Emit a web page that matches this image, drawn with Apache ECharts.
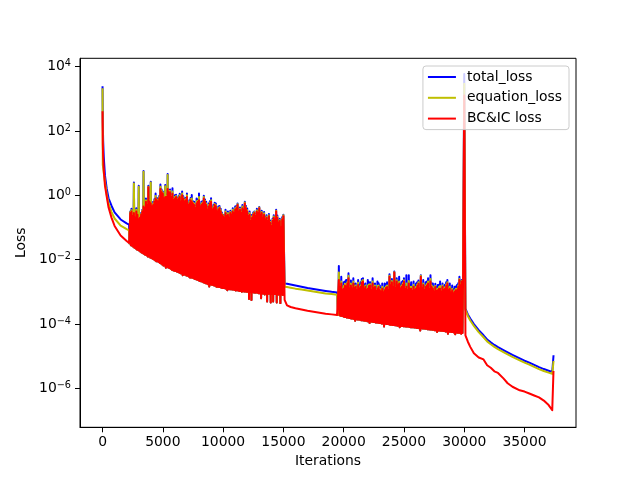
<!DOCTYPE html>
<html>
<head>
<meta charset="utf-8">
<script src="https://cdn.jsdelivr.net/npm/echarts@6.0.0/dist/echarts.min.js"></script>
<style>
html,body{margin:0;padding:0;background:#fff;}
#chart{width:640px;height:480px;}
</style>
</head>
<body>
<div id="chart"></div>
<script>
// ---- data (loss values stored as log10 exponents) ----
const seriesNames = ['total_loss', 'equation_loss', 'BC&IC loss'];
const xTickValues = [0, 5000, 10000, 15000, 20000, 25000, 30000, 35000];
const yTickExponents = [-6, -4, -2, 0, 2, 4];

// early smooth decay
const earlyIters = [0, 20, 50, 100, 200, 350, 500, 750, 1000, 1500, 2000, 2200];
const blueEarlyExp = [3.36, 2.3, 1.7, 1.2, 0.62, 0.2, -0.09, -0.33, -0.53, -0.75, -0.87, -0.91];
const yellowEarlyExp = [3.3, 0.95, 0.85, 0.7, 0.42, 0.02, -0.26, -0.52, -0.72, -0.94, -1.05, -1.09];
const redEarlyExp = [2.58, 1.6, 1.2, 0.8, 0.3, -0.05, -0.38, -0.7, -0.95, -1.25, -1.42, -1.48];

// first oscillating phase: troughs at 2250,2350,... peaks at 2300,2400,...,15000
const osc1Start = 2250;
const troughExp1 = [
  -1.5, -1.55, -1.57, -1.6, -1.63, -1.65, -1.68, -1.7, -1.72, -1.75,
  -1.78, -1.8, -1.82, -1.85, -1.86, -1.9, -1.9, -1.93, -1.95, -1.97,
  -1.99, -2.02, -2.05, -2.05, -2.07, -2.1, -2.12, -2.15, -2.18, -2.18,
  -2.25, -2.22, -2.24, -2.26, -2.28, -2.31, -2.33, -2.34, -2.35, -2.37,
  -2.38, -2.4, -2.42, -2.43, -2.48, -2.46, -2.47, -2.49, -2.5, -2.52,
  -2.55, -2.55, -2.56, -2.58, -2.6, -2.61, -2.62, -2.64, -2.66, -2.67,
  -2.68, -2.7, -2.72, -2.73, -2.74, -2.76, -2.83, -2.77, -2.78, -2.79,
  -2.8, -2.81, -2.84, -2.84, -2.85, -2.85, -2.87, -2.88, -2.88, -2.89,
  -2.9, -2.95, -2.91, -2.92, -2.92, -2.93, -2.93, -2.94, -2.96, -2.95,
  -2.96, -2.97, -2.97, -3.0, -2.98, -2.99, -2.99, -3.0, -3.0, -3.22,
  -3.01, -3.25, -3.01, -3.02, -3.03, -3.02, -3.03, -3.04, -3.04, -3.2,
  -3.05, -3.05, -3.08, -3.06, -3.3, -3.06, -3.06, -3.33, -3.07, -3.3,
  -3.07, -3.07, -3.33, -3.08, -3.08, -3.35, -3.08, -3.1];
const redPeakExp1 = [
  -0.55, -0.5, -0.65, -0.55, -0.7, -0.5, -0.6, -0.75, -0.7, -0.6,
  -0.5, -0.35, -0.4, -0.2, -0.3, 0.25, -0.2, -0.25, -0.35, -0.3,
  -0.2, -0.1, -0.15, -0.2, -0.1, 0.2, 0.1, 0.05, -0.1, -0.05,
  -0.05, 0.2, 0.1, 0.1, -0.05, 0.05, -0.15, -0.1, -0.05, -0.15,
  -0.1, -0.05, -0.2, 0.0, -0.1, -0.2, -0.15, -0.05, -0.3, -0.25,
  -0.15, -0.2, -0.25, -0.3, -0.4, -0.25, -0.2, -0.15, -0.35, -0.3,
  -0.25, -0.1, -0.2, -0.3, -0.45, -0.35, -0.25, -0.2, -0.45, -0.4,
  -0.3, -0.35, -0.5, -0.45, -0.4, -0.5, -0.6, -0.65, -0.7, -0.55,
  -0.65, -0.6, -0.7, -0.55, -0.6, -0.5, -0.55, -0.45, -0.4, -0.3,
  -0.5, -0.45, -0.55, -0.4, -0.45, -0.25, -0.4, -0.5, -0.65, -0.6,
  -0.8, -0.7, -0.6, -0.55, -0.65, -0.5, -0.55, -0.4, -0.6, -0.55,
  -0.7, -0.6, -0.75, -0.7, -0.8, -0.65, -0.85, -0.95, -0.8, -0.7,
  -0.75, -0.5, -0.7, -0.85, -0.8, -1.0, -0.75, -0.65];
const bluePeakExp1 = [
  -0.5, -0.42, -0.6, 0.4, -0.62, -0.4, -0.55, 0.3, -0.62, -0.55,
  -0.45, 0.76, -0.33, -0.1, -0.22, 0.3, -0.12, 0.42, -0.28, -0.2,
  -0.12, 0.06, -0.08, -0.1, -0.02, 0.34, 0.18, 0.12, -0.02, 0.32,
  0.02, 0.66, 0.17, 0.18, 0.02, 0.22, -0.08, 0.0, 0.02, -0.09,
  -0.03, 0.05, -0.13, 0.12, -0.03, -0.1, -0.08, 0.06, -0.23, -0.15,
  -0.08, 0.01, -0.18, -0.2, -0.33, -0.1, -0.13, 0.06, -0.28, -0.2,
  -0.18, -0.01, -0.13, -0.2, -0.38, -0.25, -0.18, -0.09, -0.38, -0.3,
  -0.23, -0.25, -0.43, -0.35, -0.33, -0.42, -0.53, -0.6, -0.63, -0.45,
  -0.58, -0.5, -0.63, -0.48, -0.53, -0.4, -0.48, -0.35, -0.33, -0.25,
  -0.43, -0.38, -0.48, -0.3, -0.38, -0.2, -0.33, -0.41, -0.58, -0.5,
  -0.73, -0.6, -0.53, -0.5, -0.58, -0.42, -0.48, -0.36, -0.53, -0.48,
  -0.63, -0.52, -0.68, -0.62, -0.73, -0.58, -0.78, -0.9, -0.73, -0.62,
  -0.68, -0.45, -0.63, -0.78, -0.73, -0.95, -0.68, -0.6];
const yellowPeakExp1 = [
  -0.52, -0.46, -0.62, 0.37, -0.66, -0.45, -0.57, 0.27, -0.66, -0.58,
  -0.47, 0.73, -0.37, -0.15, -0.26, 0.27, -0.16, 0.4, -0.32, -0.25,
  -0.16, -0.02, -0.12, -0.15, -0.06, 0.27, 0.14, 0.08, -0.06, 0.28,
  -0.02, 0.63, 0.13, 0.14, -0.02, 0.12, -0.12, -0.05, -0.02, -0.12,
  -0.07, 0.0, -0.17, 0.06, -0.07, -0.15, -0.12, 0.0, -0.27, -0.2,
  -0.12, -0.1, -0.22, -0.25, -0.37, -0.18, -0.17, -0.05, -0.32, -0.25,
  -0.22, -0.05, -0.17, -0.25, -0.42, -0.3, -0.22, -0.15, -0.42, -0.35,
  -0.27, -0.3, -0.47, -0.4, -0.37, -0.46, -0.57, -0.62, -0.67, -0.5,
  -0.62, -0.55, -0.67, -0.52, -0.57, -0.45, -0.52, -0.4, -0.37, -0.28,
  -0.47, -0.42, -0.52, -0.35, -0.42, -0.22, -0.37, -0.46, -0.62, -0.55,
  -0.77, -0.65, -0.57, -0.52, -0.62, -0.46, -0.52, -0.38, -0.57, -0.52,
  -0.67, -0.56, -0.72, -0.66, -0.77, -0.62, -0.82, -0.92, -0.77, -0.66,
  -0.72, -0.48, -0.67, -0.82, -0.77, -0.98, -0.72, -0.62];

// calm middle phase
const midIters = [15100, 15300, 15600, 16000, 16500, 17000, 17500, 18000, 18500, 19000, 19450];
const blueMidExp = [-2.74, -2.75, -2.77, -2.8, -2.84, -2.88, -2.91, -2.94, -2.97, -3.0, -3.02];
const yellowMidExp = [-2.84, -2.85, -2.87, -2.9, -2.93, -2.96, -2.99, -3.02, -3.05, -3.07, -3.09];
const redMidExp = [-3.25, -3.42, -3.47, -3.51, -3.55, -3.59, -3.62, -3.65, -3.68, -3.7, -3.72];

// second oscillating phase: troughs at 19550,19650,... peaks at 19600,...,29900
const osc2Start = 19550;
const troughExp2 = [
  -3.72, -3.73, -3.74, -3.75, -3.76, -3.78, -3.78, -3.8, -3.8, -3.81,
  -3.82, -3.83, -3.83, -3.84, -3.9, -3.85, -3.86, -3.86, -3.87, -3.88,
  -3.88, -3.89, -3.9, -3.9, -3.91, -3.92, -3.97, -3.92, -3.93, -3.94,
  -3.94, -3.95, -3.95, -3.96, -3.97, -3.97, -3.98, -3.98, -4.08, -3.99,
  -4.0, -4.0, -4.01, -4.02, -4.02, -4.03, -4.03, -4.04, -4.04, -4.05,
  -4.05, -4.1, -4.06, -4.06, -4.07, -4.07, -4.08, -4.08, -4.08, -4.09,
  -4.1, -4.1, -4.1, -4.11, -4.11, -4.12, -4.12, -4.13, -4.2, -4.13,
  -4.14, -4.14, -4.15, -4.15, -4.16, -4.16, -4.17, -4.17, -4.18, -4.18,
  -4.19, -4.19, -4.25, -4.2, -4.2, -4.21, -4.21, -4.22, -4.22, -4.23,
  -4.23, -4.3, -4.24, -4.24, -4.25, -4.25, -4.26, -4.32, -4.26, -4.27,
  -4.27, -4.28, -4.3, -4.28];
const redPeakExp2 = [
  -2.63, -2.85, -2.74, -2.95, -2.9, -2.8, -2.84, -2.75, -2.58, -2.9,
  -2.8, -2.9, -2.74, -2.88, -2.84, -2.95, -2.79, -2.9, -2.85, -2.72,
  -2.68, -2.9, -2.84, -2.95, -2.9, -2.82, -2.8, -2.95, -2.74, -2.88,
  -2.84, -2.98, -2.9, -2.85, -2.95, -3.0, -2.9, -3.02, -2.95, -2.88,
  -2.85, -2.95, -2.53, -2.8, -2.7, -2.85, -2.4, -2.9, -2.68, -2.8,
  -2.74, -2.9, -2.85, -2.78, -2.68, -2.92, -2.84, -2.95, -2.74, -2.9,
  -2.9, -2.98, -2.84, -2.95, -2.9, -2.82, -2.75, -2.9, -2.53, -2.88,
  -2.79, -2.95, -2.85, -2.8, -2.74, -2.92, -2.68, -2.85, -2.9, -3.0,
  -2.85, -2.98, -2.95, -2.9, -2.9, -3.0, -2.84, -2.95, -2.9, -2.82,
  -2.74, -2.95, -2.9, -3.02, -2.95, -3.05, -3.0, -2.95, -2.95, -2.85,
  -2.63, -2.8, -2.68, -2.75];
const bluePeakExp2 = [
  -2.2, -2.72, -2.53, -2.83, -2.7, -2.68, -2.63, -2.62, -2.42, -2.78,
  -2.65, -2.78, -2.58, -2.76, -2.74, -2.83, -2.63, -2.78, -2.7, -2.6,
  -2.58, -2.78, -2.74, -2.83, -2.63, -2.7, -2.7, -2.83, -2.58, -2.76,
  -2.74, -2.86, -2.68, -2.73, -2.8, -2.88, -2.74, -2.9, -2.74, -2.76,
  -2.7, -2.83, -2.45, -2.68, -2.6, -2.73, -2.37, -2.78, -2.58, -2.68,
  -2.53, -2.78, -2.7, -2.66, -2.58, -2.8, -2.48, -2.83, -2.48, -2.78,
  -2.7, -2.86, -2.68, -2.83, -2.74, -2.7, -2.65, -2.78, -2.48, -2.76,
  -2.63, -2.83, -2.7, -2.68, -2.58, -2.8, -2.48, -2.73, -2.74, -2.88,
  -2.75, -2.86, -2.79, -2.78, -2.68, -2.88, -2.74, -2.83, -2.78, -2.7,
  -2.63, -2.83, -2.74, -2.9, -2.8, -2.93, -2.84, -2.83, -2.79, -2.73,
  -2.53, -2.68, -2.63, -2.63];
const yellowPeakExp2 = [
  -2.4, -2.8, -2.68, -2.9, -2.82, -2.75, -2.76, -2.7, -2.5, -2.85,
  -2.74, -2.85, -2.68, -2.83, -2.8, -2.9, -2.72, -2.85, -2.8, -2.67,
  -2.63, -2.85, -2.8, -2.9, -2.8, -2.77, -2.76, -2.9, -2.68, -2.83,
  -2.8, -2.93, -2.82, -2.8, -2.9, -2.95, -2.84, -2.97, -2.88, -2.83,
  -2.8, -2.9, -2.5, -2.75, -2.66, -2.8, -2.39, -2.85, -2.64, -2.75,
  -2.68, -2.85, -2.8, -2.73, -2.64, -2.87, -2.74, -2.9, -2.66, -2.85,
  -2.84, -2.93, -2.78, -2.9, -2.84, -2.77, -2.7, -2.85, -2.5, -2.83,
  -2.74, -2.9, -2.8, -2.75, -2.68, -2.87, -2.6, -2.8, -2.84, -2.95,
  -2.82, -2.93, -2.9, -2.85, -2.82, -2.95, -2.8, -2.9, -2.86, -2.77,
  -2.7, -2.9, -2.84, -2.97, -2.9, -3.0, -2.95, -2.9, -2.9, -2.8,
  -2.6, -2.75, -2.66, -2.7];

// spike at 30000
const spikeIter = 30000;
const blueSpikeExp = 3.77;
const yellowSpikeExp = 3.47;
const redSpikeExp = 3.1;

// final smooth phase
const tailIters = [30100, 30300, 30500, 30800, 31200, 31600, 31900, 32200, 32500, 32800, 33250,
  33600, 34000, 34600, 35000, 35400, 35800, 36200, 36600, 37000, 37300, 37400];
const blueTailExp = [-3.52, -3.7, -3.83, -4.0, -4.19, -4.35, -4.48, -4.57, -4.65, -4.72, -4.81,
  -4.88, -4.96, -5.07, -5.14, -5.2, -5.27, -5.34, -5.4, -5.45, -5.49, -5.0];
const yellowTailExp = [-3.56, -3.75, -3.89, -4.06, -4.25, -4.41, -4.54, -4.63, -4.71, -4.78, -4.87,
  -4.94, -5.02, -5.13, -5.2, -5.26, -5.33, -5.4, -5.46, -5.51, -5.55, -5.18];
const redTailExp = [-4.35, -4.55, -4.71, -4.91, -5.04, -5.1, -5.28, -5.36, -5.47, -5.52, -5.69,
  -5.84, -5.95, -6.06, -6.1, -6.16, -6.22, -6.28, -6.38, -6.52, -6.68, -5.49];

// ---- build series points ----
const p10 = e => Math.pow(10, e);
function smooth(iters, exps) { return iters.map((x, i) => [x, p10(exps[i])]); }
function osc(start, troughs, peaks) {
  const pts = [];
  for (let k = 0; k < troughs.length; k++) {
    pts.push([start + 100 * k, p10(troughs[k])]);
    pts.push([start + 100 * k + 50, p10(peaks[k])]);
  }
  return pts;
}
function build(earlyE, pk1, midE, pk2, spikeE, tailE) {
  return [].concat(
    smooth(earlyIters, earlyE),
    osc(osc1Start, troughExp1, pk1),
    smooth(midIters, midE),
    osc(osc2Start, troughExp2, pk2),
    [[spikeIter, p10(spikeE)]],
    smooth(tailIters, tailE)
  );
}
const blueData = build(blueEarlyExp, bluePeakExp1, blueMidExp, bluePeakExp2, blueSpikeExp, blueTailExp);
const yellowData = build(yellowEarlyExp, yellowPeakExp1, yellowMidExp, yellowPeakExp2, yellowSpikeExp, yellowTailExp);
const redData = build(redEarlyExp, redPeakExp1, redMidExp, redPeakExp2, redSpikeExp, redTailExp);

const FONT = 'DejaVu Sans';
const FS = 13.9;

function lineSeries(name, color, data) {
  return {
    name: name, type: 'line', data: data, symbol: 'none', showSymbol: false,
    animation: false, clip: true,
    lineStyle: { color: color, width: 2, join: 'round', cap: 'square' },
    itemStyle: { color: color },
    emphasis: { disabled: true }
  };
}

const chart = echarts.init(document.getElementById('chart'), null, { renderer: 'canvas' });
chart.setOption({
  animation: false,
  backgroundColor: '#fff',
  textStyle: { fontFamily: FONT },
  grid: { left: 80, right: 64, top: 58.3, bottom: 52.7, show: true, borderColor: '#000', borderWidth: 1, backgroundColor: 'transparent' },
  legend: {
    orient: 'vertical', right: 71, top: 66,
    backgroundColor: 'rgba(255,255,255,0.8)', borderColor: '#cccccc', borderWidth: 1, borderRadius: 3,
    padding: [4, 7, 4, 5], itemGap: 6.8, itemWidth: 28, itemHeight: 2,
    icon: 'rect',
    textStyle: { fontFamily: FONT, fontSize: FS, lineHeight: 14, color: '#000', padding: [0, 0, 0, 6] },
    data: seriesNames
  },
  xAxis: {
    type: 'value', min: -1870, max: 39270,
    name: 'Iterations', nameLocation: 'middle', nameGap: 26,
    nameTextStyle: { fontFamily: FONT, fontSize: FS, color: '#000' },
    axisLine: { show: true, onZero: false, lineStyle: { color: '#000', width: 1 } },
    axisTick: { show: true, length: 5, inside: false, lineStyle: { color: '#000', width: 1 }, customValues: xTickValues },
    axisLabel: { fontFamily: FONT, fontSize: FS, color: '#000', margin: 8, customValues: xTickValues,
      formatter: function (v) { return String(v); } },
    splitLine: { show: false }
  },
  yAxis: {
    type: 'log', logBase: 10, min: p10(-7.21), max: p10(4.26),
    name: 'Loss', nameLocation: 'middle', nameGap: 46, nameRotate: 90,
    nameTextStyle: { fontFamily: FONT, fontSize: FS, color: '#000' },
    axisLine: { show: true, onZero: false, lineStyle: { color: '#000', width: 1 } },
    axisTick: { show: true, length: 5, inside: false, lineStyle: { color: '#000', width: 1 }, customValues: yTickExponents.map(p10) },
    axisLabel: {
      fontFamily: FONT, fontSize: FS, color: '#000', margin: 9,
      customValues: yTickExponents.map(p10),
      formatter: function (v) {
        const e = Math.round(Math.log10(v));
        const s = String(e).replace('-', '\u2212');
        return '{b|10}{s|' + s + '}';
      },
      rich: {
        b: { fontFamily: FONT, fontSize: FS, color: '#000', lineHeight: 16 },
        s: { fontFamily: FONT, fontSize: 9.7, color: '#000', lineHeight: 7, verticalAlign: 'top' }
      }
    },
    splitLine: { show: false },
    minorTick: { show: false }
  },
  series: [
    lineSeries(seriesNames[0], '#0000ff', blueData),
    lineSeries(seriesNames[1], '#bfbf00', yellowData),
    lineSeries(seriesNames[2], '#ff0000', redData)
  ]
});
</script>
</body>
</html>
